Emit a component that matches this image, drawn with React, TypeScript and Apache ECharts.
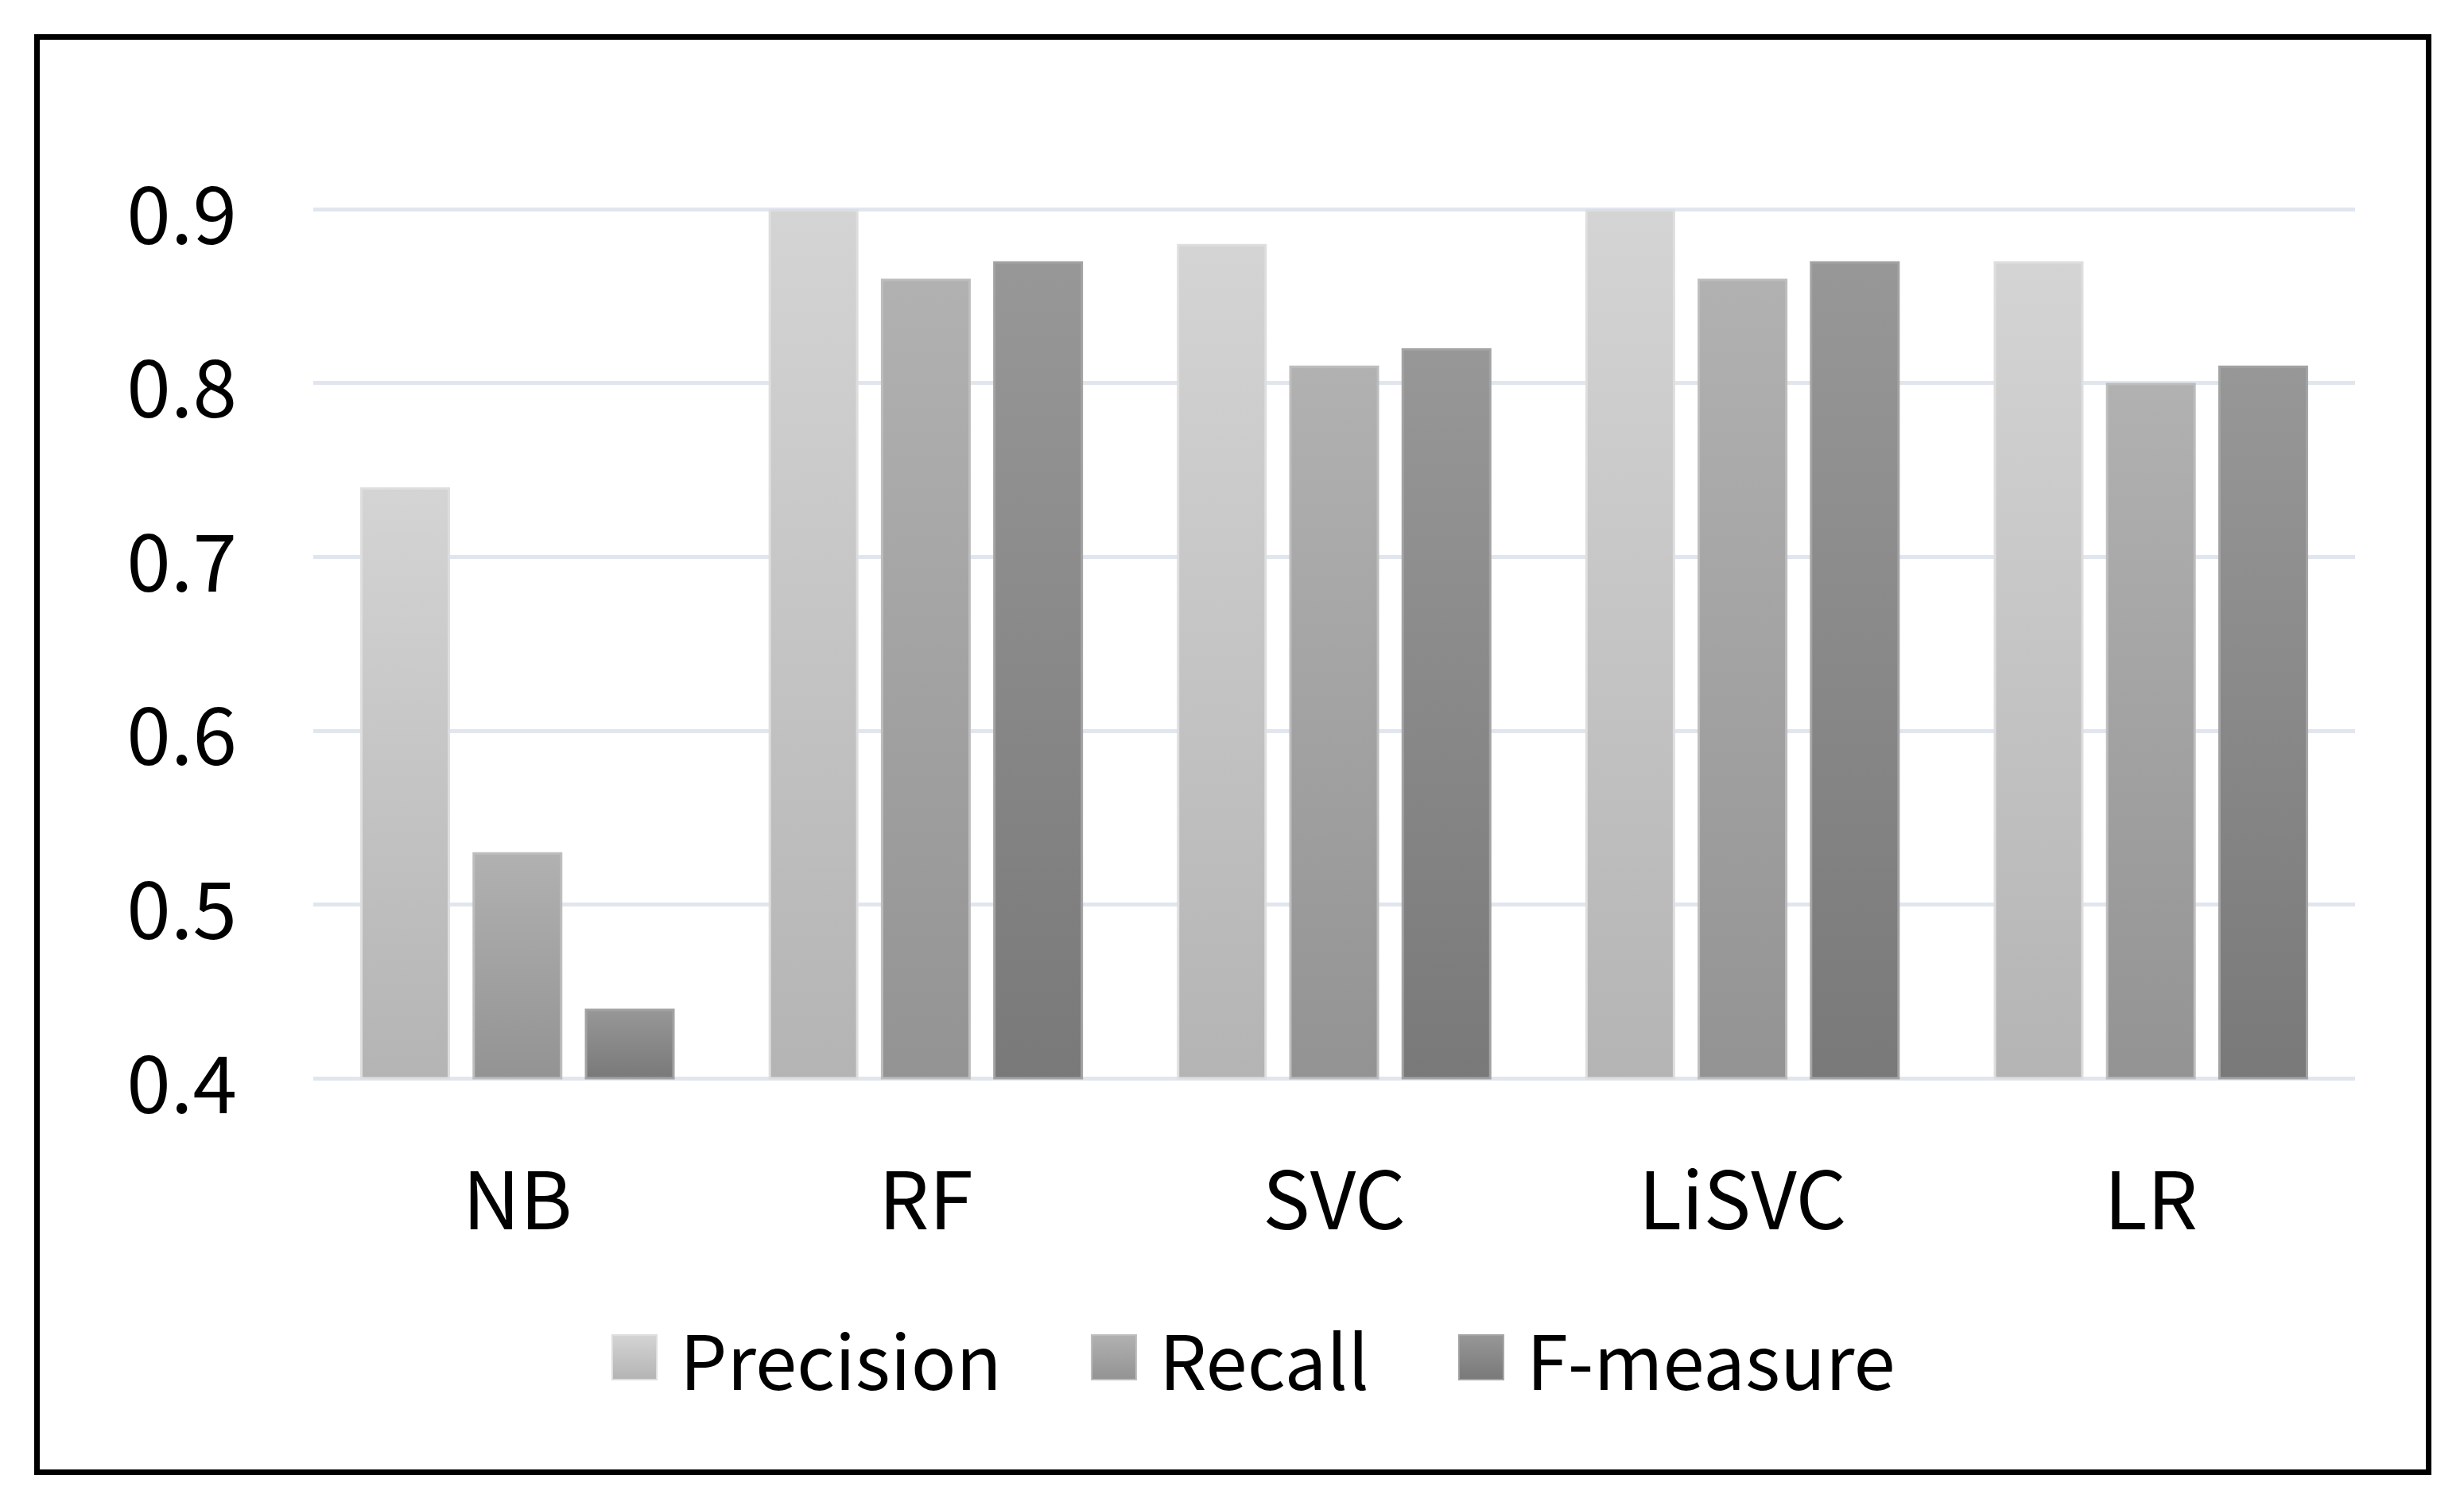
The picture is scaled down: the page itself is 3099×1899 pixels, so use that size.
import React, { useEffect, useRef } from "react";
import * as echarts from "echarts";

const categories = ["NB", "RF", "SVC", "LiSVC", "LR"];
const seriesNames = ["Precision", "Recall", "F-measure"];
const precisionValues = [0.74, 0.9, 0.88, 0.9, 0.87];
const recallValues = [0.53, 0.86, 0.81, 0.86, 0.8];
const fMeasureValues = [0.44, 0.87, 0.82, 0.87, 0.81];
const yMin = 0.4;
const yMax = 0.9;
const yStep = 0.1;

const gradients = [
  ["#d4d4d4", "#b4b4b4", "#dedede"],
  ["#b1b1b1", "#939393", "#bdbdbd"],
  ["#979797", "#797979", "#a3a3a3"],
];

const FONT = "'Noto Sans CJK KR', 'Noto Sans', sans-serif";

export default function App() {
  const ref = useRef<HTMLDivElement>(null);
  useEffect(() => {
    if (!ref.current) return;
    const chart = echarts.init(ref.current, undefined, { renderer: "svg" });
    const values = [precisionValues, recallValues, fMeasureValues];
    chart.setOption({
      animation: false,
      backgroundColor: "#ffffff",
      grid: { left: 394, right: 137, top: 263, bottom: 543, containLabel: false },
      graphic: [
        {
          type: "rect",
          shape: { x: 46.5, y: 46.5, width: 3008, height: 1805 },
          style: { fill: "none", stroke: "#000000", lineWidth: 7 },
          silent: true,
        },
      ],
      legend: {
        data: seriesNames,
        left: 764,
        top: 1652,
        icon: "rect",
        itemWidth: 56,
        itemHeight: 56,
        itemGap: 112,
        textStyle: {
          fontFamily: FONT,
          fontSize: 94,
          lineHeight: 100,
          color: "#000000",
          padding: [0, 0, 0, 24],
        },
      },
      xAxis: {
        type: "category",
        data: categories,
        axisLine: { show: false },
        axisTick: { show: false },
        axisLabel: {
          margin: 96,
          fontFamily: FONT,
          fontSize: 100,
          lineHeight: 100,
          color: "#000000",
        },
      },
      yAxis: {
        type: "value",
        min: yMin,
        max: yMax,
        interval: yStep,
        axisLine: { show: false },
        axisTick: { show: false },
        splitLine: { lineStyle: { color: "#e1e6ee", width: 5 } },
        axisLabel: {
          margin: 96,
          fontFamily: FONT,
          fontSize: 100,
          lineHeight: 100,
          color: "#000000",
          formatter: (v: number) => v.toFixed(1),
        },
      },
      series: seriesNames.map((name, i) => ({
        name,
        type: "bar",
        data: values[i],
        barGap: "25%",
        barCategoryGap: "23%",
        itemStyle: {
          color: new echarts.graphic.LinearGradient(0, 0, 0, 1, [
            { offset: 0, color: gradients[i][0] },
            { offset: 1, color: gradients[i][1] },
          ]),
          borderColor: gradients[i][2],
          borderWidth: 3,
        },
      })),
    });
    return () => chart.dispose();
  }, []);
  return (
    <div
      ref={ref}
      style={{ position: "fixed", left: 0, top: 0, width: 3099, height: 1899 }}
    />
  );
}
